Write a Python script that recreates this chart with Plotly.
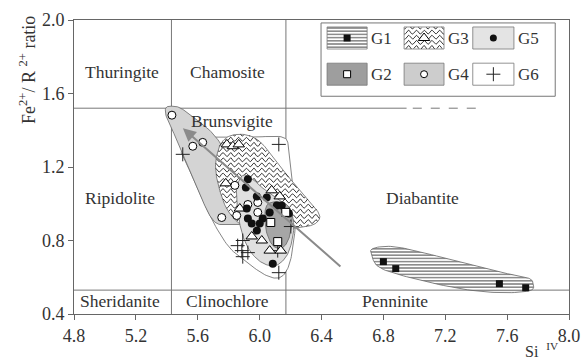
import numpy as np
import plotly.graph_objects as go

# ---------------- data ----------------
# sample points per group: Si(IV) and Fe2+/R2+ ratio
g1_si = [6.80, 6.88, 7.55, 7.72]
g1_fe = [0.685, 0.647, 0.565, 0.543]

g2_si = [6.072, 6.117, 6.169]
g2_fe = [0.898, 0.794, 0.953]

g3_si = [5.788, 5.827, 5.865, 5.781, 5.872, 5.949, 6.014, 6.065, 6.137, 6.078, 6.130]
g3_fe = [1.323, 1.313, 1.323, 1.111, 0.974, 0.822, 0.800, 0.745, 0.745, 1.073, 1.040]

g4_si = [5.433, 5.568, 5.632, 5.755, 5.852, 5.840, 5.924, 5.988, 5.988]
g4_fe = [1.482, 1.313, 1.334, 0.925, 0.936, 1.100, 0.996, 1.007, 0.953]

g5_si = [5.924, 5.911, 5.982, 6.046, 6.111, 6.143, 6.189, 6.065, 6.020, 6.001,
         5.924, 5.949, 5.982, 6.085, 5.917]
g5_fe = [1.133, 1.089, 1.040, 1.034, 0.991, 0.991, 0.947, 0.953, 0.920, 0.893,
         0.920, 0.893, 0.854, 0.674, 0.974]

g6_si = [5.503, 6.124, 5.891, 5.885, 5.924, 5.891, 6.117, 6.202, 6.124, 5.858]
g6_fe = [1.269, 1.323, 0.800, 0.745, 0.734, 0.712, 0.745, 0.876, 0.625, 0.772]

# field outlines of each group
g1_hull_si = [6.732, 6.861, 7.081, 7.508, 7.728, 7.767, 7.747, 7.554, 7.295, 6.972, 6.777, 6.725]
g1_hull_fe = [0.756, 0.767, 0.729, 0.636, 0.598, 0.565, 0.527, 0.516, 0.538, 0.598, 0.652, 0.718]

g2_hull_si = [6.046, 6.150, 6.208, 6.195, 6.150, 6.085, 6.040]
g2_hull_fe = [0.991, 1.007, 0.947, 0.827, 0.762, 0.773, 0.865]

g3_hull_si = [5.723, 5.755, 5.820, 5.924, 6.014, 6.098, 6.195, 6.292, 6.363, 6.389,
              6.350, 6.260, 6.195, 6.098, 5.988, 5.885, 5.794, 5.742, 5.716]
g3_hull_fe = [1.264, 1.334, 1.373, 1.373, 1.329, 1.236, 1.138, 1.045, 0.974, 0.925,
              0.887, 0.871, 0.865, 0.843, 0.843, 0.882, 0.963, 1.073, 1.182]

g4_hull_si = [5.393, 5.432, 5.490, 5.580, 5.677, 5.755, 5.820, 5.904, 5.969, 5.988,
              5.936, 5.859, 5.742, 5.691, 5.645, 5.580, 5.516, 5.451, 5.400]
g4_hull_fe = [1.520, 1.531, 1.520, 1.465, 1.400, 1.318, 1.209, 1.100, 1.018, 0.936,
              0.893, 0.887, 0.887, 0.920, 0.991, 1.127, 1.247, 1.373, 1.465]

g5_hull_si = [5.891, 5.949, 6.014, 6.117, 6.195, 6.221, 6.202, 6.163, 6.098, 6.014,
              5.936, 5.885, 5.859, 5.852]
g5_hull_fe = [1.154, 1.138, 1.089, 1.029, 0.974, 0.882, 0.773, 0.702, 0.663, 0.680,
              0.745, 0.843, 0.963, 1.083]

g6_hull_si = [5.497, 5.580, 5.697, 5.936, 6.150, 6.189, 6.208, 6.234, 6.221, 6.189,
              6.130, 6.033, 5.904, 5.794, 5.678, 5.580, 5.516]
g6_hull_fe = [1.291, 1.345, 1.362, 1.362, 1.362, 1.291, 1.154, 0.963, 0.800, 0.663,
              0.598, 0.614, 0.691, 0.773, 0.936, 1.127, 1.236]

# trend arrow (from, to)
trend_si = [6.532, 5.504]
trend_fe = [0.652, 1.411]

# classification field boundaries
si_bounds = [5.43, 6.17]
fe_upper = 1.52
fe_lower = 0.53

field_names = ["Thuringite", "Chamosite", "Brunsvigite", "Ripidolite", "Diabantite",
               "Sheridanite", "Clinochlore", "Penninite"]
field_si = [5.108, 5.794, 5.82, 5.096, 7.055, 5.096, 5.794, 6.874]
field_fe = [1.716, 1.716, 1.449, 1.029, 1.029, 0.472, 0.472, 0.472]

x_ticks = [4.8, 5.2, 5.6, 6.0, 6.4, 6.8, 7.2, 7.6, 8.0]
y_ticks = [0.4, 0.8, 1.2, 1.6, 2.0]

X_RANGE = [4.8, 8.0]
Y_RANGE = [0.4, 2.0]

FONT = "Liberation Serif, Times New Roman, Times, serif"
INK = "#333333"
EDGE = "#666666"


# ---------------- helpers ----------------
def smooth_closed(xs, ys, n=12):
    """Closed Catmull-Rom curve through the outline vertices."""
    p = np.column_stack([xs, ys]).astype(float)
    m = len(p)
    out = []
    t = np.linspace(0, 1, n, endpoint=False)[:, None]
    for i in range(m):
        p0, p1, p2, p3 = p[(i - 1) % m], p[i], p[(i + 1) % m], p[(i + 2) % m]
        seg = 0.5 * ((2 * p1) + (-p0 + p2) * t + (2 * p0 - 5 * p1 + 4 * p2 - p3) * t ** 2
                     + (-p0 + 3 * p1 - 3 * p2 + p3) * t ** 3)
        out.append(seg)
    out = np.vstack(out)
    out = np.vstack([out, out[:1]])
    return out[:, 0], out[:, 1]


def inside(px, py, vx, vy):
    vx = np.asarray(vx); vy = np.asarray(vy)
    c = np.zeros(px.shape, dtype=bool)
    j = len(vx) - 1
    for i in range(len(vx)):
        cond = ((vy[i] > py) != (vy[j] > py)) & (
            px < (vx[j] - vx[i]) * (py - vy[i]) / (vy[j] - vy[i] + 1e-12) + vx[i])
        c ^= cond
        j = i
    return c


def wave_lines(vx, vy, dy=0.028, wl=0.05, amp=0.011):
    """Wavy hatch lines clipped to a polygon."""
    xs_all, ys_all = [], []
    xg = np.arange(min(vx) - 0.01, max(vx) + 0.01, 0.003)
    for y0 in np.arange(min(vy) - 0.02, max(vy) + 0.02, dy):
        yy = y0 + amp * np.sin(2 * np.pi * xg / wl)
        m = inside(xg, yy, vx, vy)
        xx = np.where(m, xg, np.nan)
        yv = np.where(m, yy, np.nan)
        xs_all.extend(list(xx) + [np.nan])
        ys_all.extend(list(yv) + [np.nan])
    return xs_all, ys_all


G1_PATTERN = dict(shape="-", size=3.2, solidity=0.5, fgcolor="#1a1a1a", bgcolor="white")

fig = go.Figure()


def add_field(xs, ys, fill, pattern=None, width=0.8):
    sx, sy = smooth_closed(xs, ys)
    kw = {}
    if pattern is not None:
        kw["fillpattern"] = pattern
    fig.add_trace(go.Scatter(x=sx, y=sy, mode="lines", fill="toself", fillcolor=fill,
                             line=dict(color=EDGE, width=width), hoverinfo="skip",
                             showlegend=False, **kw))
    return sx, sy


# ---------------- fields ----------------
add_field(g6_hull_si, g6_hull_fe, "white")
add_field(g4_hull_si, g4_hull_fe, "#d4d4d4")
g3x, g3y = add_field(g3_hull_si, g3_hull_fe, "white")
wx, wy = wave_lines(g3x, g3y)
fig.add_trace(go.Scatter(x=wx, y=wy, mode="lines", line=dict(color="#222222", width=0.9),
                         hoverinfo="skip", showlegend=False, connectgaps=False))
add_field(g5_hull_si, g5_hull_fe, "#e0e0e0")
add_field(g2_hull_si, g2_hull_fe, "#a6a6a6")
add_field(g1_hull_si, g1_hull_fe, "white", pattern=G1_PATTERN)

# ---------------- classification grid ----------------
grid = dict(color="#777777", width=1)
for s in si_bounds:
    fig.add_shape(type="line", x0=s, x1=s, y0=Y_RANGE[0], y1=Y_RANGE[1], line=grid, layer="below")
fig.add_shape(type="line", x0=X_RANGE[0], x1=6.95, y0=fe_upper, y1=fe_upper, line=grid, layer="below")
fig.add_shape(type="line", x0=6.99, x1=7.43, y0=fe_upper, y1=fe_upper,
              line=dict(color="#777777", width=1, dash="dash"), layer="below")
fig.add_shape(type="line", x0=X_RANGE[0], x1=X_RANGE[1], y0=fe_lower, y1=fe_lower, line=grid, layer="below")

for name, sx, sy in zip(field_names, field_si, field_fe):
    fig.add_annotation(x=sx, y=sy, text=name, showarrow=False,
                       font=dict(family=FONT, size=17.5, color=INK))

# ---------------- trend arrow ----------------
fig.add_annotation(x=trend_si[1], y=trend_fe[1], ax=trend_si[0], ay=trend_fe[0],
                   xref="x", yref="y", axref="x", ayref="y", text="", showarrow=True,
                   arrowhead=2, arrowsize=1.3, arrowwidth=2, arrowcolor="#8a8a8a")

# ---------------- points ----------------
blk = dict(color="black", width=1)
fig.add_trace(go.Scatter(x=g1_si, y=g1_fe, mode="markers", showlegend=False,
                         marker=dict(symbol="square", size=7, color="#111111")))
fig.add_trace(go.Scatter(x=g6_si, y=g6_fe, mode="markers", showlegend=False,
                         marker=dict(symbol="cross-thin", size=10, line=dict(color="#222222", width=1))))
fig.add_trace(go.Scatter(x=g3_si, y=g3_fe, mode="markers", showlegend=False,
                         marker=dict(symbol="triangle-up", size=10, color="white", line=blk)))
fig.add_trace(go.Scatter(x=g4_si, y=g4_fe, mode="markers", showlegend=False,
                         marker=dict(symbol="circle", size=8, color="white", line=blk)))
fig.add_trace(go.Scatter(x=g5_si, y=g5_fe, mode="markers", showlegend=False,
                         marker=dict(symbol="circle", size=8, color="#111111")))
fig.add_trace(go.Scatter(x=g2_si, y=g2_fe, mode="markers", showlegend=False,
                         marker=dict(symbol="square", size=8, color="white", line=blk)))

# ---------------- key box ----------------
key_box = dict(x0=6.397, x1=7.911, y0=1.585, y1=1.984)
key_cols = [(6.436, 6.695), (6.934, 7.192), (7.378, 7.644)]
key_rows = [(1.842, 1.962), (1.645, 1.765)]
key_groups = [["G1", "G3", "G5"], ["G2", "G4", "G6"]]
key_fill = {"G1": "white", "G3": "white", "G5": "#e4e4e4",
            "G2": "#9e9e9e", "G4": "#cdcdcd", "G6": "white"}
key_marker = {
    "G1": dict(symbol="square", size=7, color="#111111"),
    "G2": dict(symbol="square", size=7, color="white", line=blk),
    "G3": dict(symbol="triangle-up", size=10, color="white", line=blk),
    "G4": dict(symbol="circle", size=7, color="white", line=blk),
    "G5": dict(symbol="circle", size=7, color="#111111"),
    "G6": dict(symbol="cross-thin", size=10, line=dict(color="#222222", width=1)),
}

fig.add_shape(type="rect", **key_box, line=dict(color="#777777", width=1), fillcolor="white", layer="below")

for r, (ya, yb) in enumerate(key_rows):
    for c, (xa, xb) in enumerate(key_cols):
        g = key_groups[r][c]
        rx = [xa, xb, xb, xa, xa]
        ry = [ya, ya, yb, yb, ya]
        kw = {}
        if g == "G1":
            kw["fillpattern"] = G1_PATTERN
        fig.add_trace(go.Scatter(x=rx, y=ry, mode="lines", fill="toself", fillcolor=key_fill[g],
                                 line=dict(color="#777777", width=0.8), hoverinfo="skip",
                                 showlegend=False, **kw))
        if g == "G3":
            wx, wy = wave_lines(rx, ry)
            fig.add_trace(go.Scatter(x=wx, y=wy, mode="lines", line=dict(color="#222222", width=0.9),
                                     hoverinfo="skip", showlegend=False))
        fig.add_trace(go.Scatter(x=[(xa + xb) / 2], y=[(ya + yb) / 2], mode="markers",
                                 marker=key_marker[g], showlegend=False, hoverinfo="skip"))
        fig.add_annotation(x=xb + 0.015, y=(ya + yb) / 2, text=g, showarrow=False, xanchor="left",
                           font=dict(family=FONT, size=17, color=INK))

# ---------------- axis titles ----------------
fig.add_annotation(xref="paper", yref="paper", x=0.945, y=-0.163, xanchor="center", yanchor="bottom",
                   text="Si  <sup>IV</sup>", showarrow=False, font=dict(family=FONT, size=16, color=INK))
fig.add_annotation(xref="paper", yref="paper", x=-0.093, y=0.83, xanchor="center", yanchor="middle",
                   textangle=-90, text="Fe<sup>2+</sup>/ R <sup>2+</sup> ratio", showarrow=False,
                   font=dict(family=FONT, size=18, color=INK))

# ---------------- axes ----------------
fig.update_xaxes(range=X_RANGE, tickvals=x_ticks, ticktext=[f"{v:.1f}" for v in x_ticks],
                 showgrid=False, zeroline=False, showline=True, mirror=True,
                 linecolor="#666666", linewidth=1, ticks="outside", ticklen=5, tickcolor="#666666",
                 tickfont=dict(family=FONT, size=18, color=INK))
fig.update_yaxes(range=Y_RANGE, tickvals=y_ticks, ticktext=[f"{v:.1f}" for v in y_ticks],
                 showgrid=False, zeroline=False, showline=True, mirror=True,
                 linecolor="#666666", linewidth=1, ticks="outside", ticklen=5, tickcolor="#666666",
                 tickfont=dict(family=FONT, size=18, color=INK))

fig.update_layout(width=581, height=364, margin=dict(l=74, r=12, t=20, b=50, autoexpand=False),
                  plot_bgcolor="white", paper_bgcolor="white", showlegend=False)

fig.write_html("out.html")
